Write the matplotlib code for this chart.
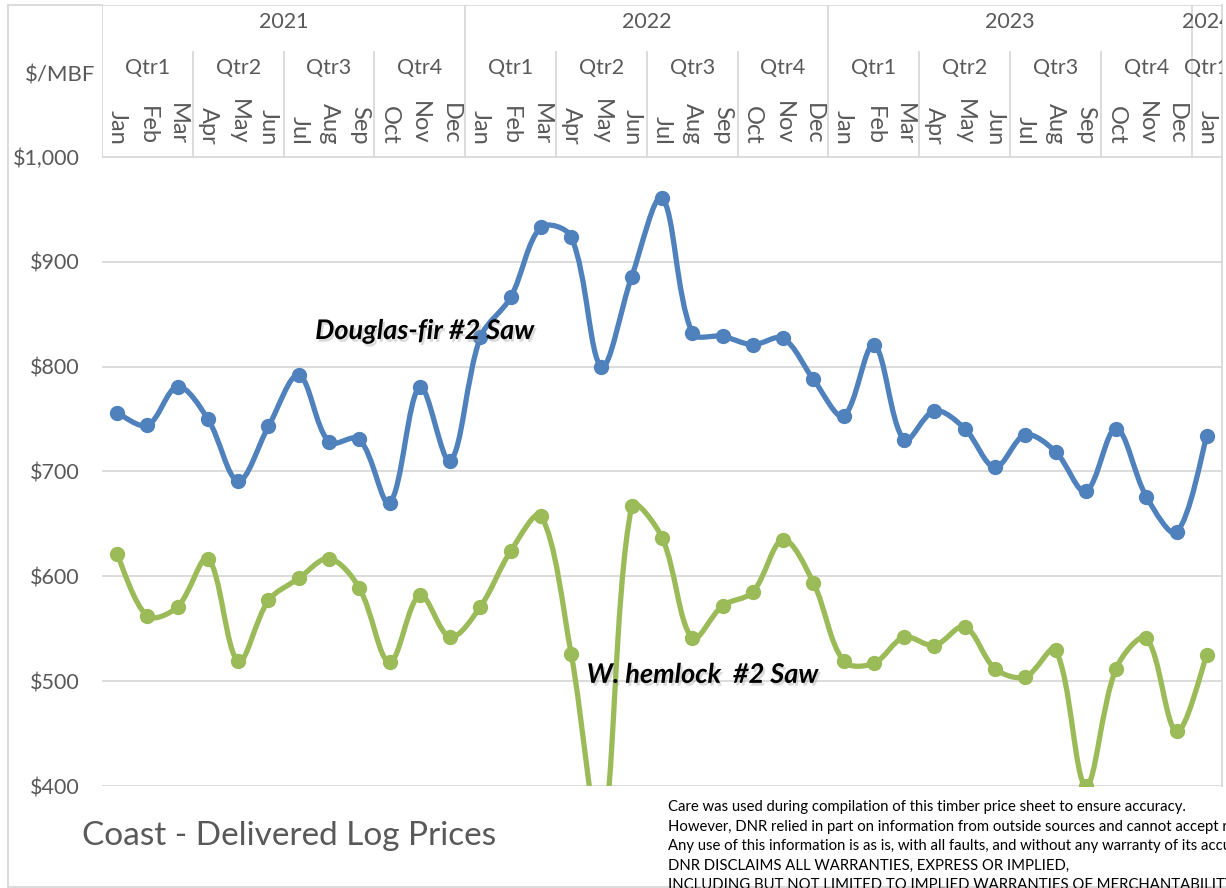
import numpy as np
import matplotlib
matplotlib.use("Agg")
import matplotlib.pyplot as plt
from matplotlib.path import Path
from matplotlib.patches import PathPatch
import matplotlib.patheffects as pe

plt.rcParams["font.family"] = ["Lato", "DejaVu Sans"]

# monthly delivered log prices, Jan 2021 .. Jan 2024 ($/MBF)
months = ["Jan", "Feb", "Mar", "Apr", "May", "Jun",
          "Jul", "Aug", "Sep", "Oct", "Nov", "Dec"] * 3 + ["Jan"]
quarters = ["Qtr1", "Qtr2", "Qtr3", "Qtr4"] * 3 + ["Qtr1"]
years = ["2021", "2022", "2023", "2024"]

douglas_fir = [756, 744, 781, 750, 691, 743, 792, 728, 731, 670, 781, 710,
               828, 866, 933, 924, 800, 886, 961, 832, 829, 821, 827, 788,
               753, 821, 730, 758, 741, 704, 735, 719, 681, 741, 676, 642,
               734]
hemlock = [621, 562, 571, 617, 519, 577, 598, 617, 589, 518, 582, 542,
           571, 624, 658, 526, 350, 667, 637, 541, 572, 585, 635, 594,
           519, 517, 542, 534, 552, 512, 504, 530, 400, 512, 541, 452,
           525]

BLUE = "#4F81BD"
GREEN = "#9BBB59"
GRID = "#D9D9D9"
TXT = "#595959"

W, H = 1226, 888
fig = plt.figure(figsize=(W / 100, H / 100), dpi=100)


def fx(px):
    return px / W


def fy(py):
    return 1 - py / H


def smooth_path(ax, x, y):
    # Excel-like smoothing: Bezier segments, tangents scaled by on-screen chord lengths
    data = np.column_stack([x, y]).astype(float)
    pix = ax.transData.transform(data)
    n = len(pix)

    def d(a, b):
        return np.hypot(*(pix[b] - pix[a]))

    verts = [pix[0]]
    codes = [Path.MOVETO]
    for i in range(n - 1):
        i0, i3 = max(i - 1, 0), min(i + 2, n - 1)
        p0, p1, p2, p3 = pix[i0], pix[i], pix[i + 1], pix[i3]
        d01, d12, d23 = d(i0, i), d(i, i + 1), d(i + 1, i3)
        f1 = d12 / (d01 + d12) / 3 if d01 > 0 else 1 / 6
        f2 = d12 / (d12 + d23) / 3 if d23 > 0 else 1 / 6
        verts += [p1 + (p2 - p0) * f1, p2 - (p3 - p1) * f2, p2]
        codes += [Path.CURVE4] * 3
    return Path(verts, codes)


left, right, top, bottom = 102, 1222, 157, 786
ax = fig.add_axes([fx(left), fy(bottom), fx(right - left), (bottom - top) / H])
x = np.arange(len(months))
ax.set_xlim(-0.5, len(months) - 0.5)
ax.set_ylim(400, 1000)

for series, color in [(douglas_fir, BLUE), (hemlock, GREEN)]:
    patch = PathPatch(smooth_path(ax, x, series), facecolor="none", edgecolor=color,
                      lw=3.8, capstyle="round", joinstyle="round", zorder=3,
                      transform=None)
    patch.set_clip_box(ax.bbox)
    ax.add_artist(patch)
    ax.plot(x, series, "o", color=color, ms=10, zorder=4, clip_on=True)

ax.set_yticks(np.arange(400, 1001, 100))
ax.set_yticklabels([f"${v:,}" for v in range(400, 1001, 100)], color=TXT, fontsize=15.5)
ax.tick_params(axis="y", length=0, pad=16)
ax.set_xticks([])
ax.grid(axis="y", color=GRID, lw=1.3)
for s in ["left", "top", "bottom"]:
    ax.spines[s].set_visible(False)
ax.spines["right"].set_color(GRID)
ax.spines["right"].set_linewidth(1.3)

shadow = [pe.SimplePatchShadow(offset=(1.5, -2), shadow_rgbFace="#999999", alpha=0.35),
          pe.Normal()]
ax.text(10.17, 834, "Douglas-fir #2 Saw", fontsize=19.5, fontweight="bold", style="italic",
        ha="center", va="center", color="black", zorder=5, path_effects=shadow)
ax.text(19.35, 506, "W. hemlock  #2 Saw", fontsize=19.5, fontweight="bold", style="italic",
        ha="center", va="center", color="black", zorder=5, path_effects=shadow)

# multi-level category header above the plot
hdr_top = 5
hx = fig.add_axes([fx(left), fy(top), fx(right - left), (top - hdr_top) / H], sharex=ax)
hx.set_ylim(0, 1)
hx.axis("off")
hx.axhline(1, color=GRID, lw=1.3)
hx.axhline(0, color=GRID, lw=1.3)

q_top = (top - 52) / (top - hdr_top)
for i, m in enumerate(months):
    hx.text(i, 0.08, m, rotation=-90, ha="center", va="bottom", fontsize=17,
            color=TXT, clip_on=True)
for q in range(len(quarters)):
    start = q * 3 - 0.5
    end = min(start + 3, len(months) - 0.5)
    hx.text((start + end) / 2, 0.585, quarters[q], ha="center", va="center",
            fontsize=15.5, color=TXT, clip_on=True)
    if q % 4 != 0:
        hx.plot([start, start], [0, q_top], color=GRID, lw=1.3)
for yi, yr in enumerate(years):
    start = yi * 12 - 0.5
    end = min(start + 12, len(months) - 0.5)
    hx.text((start + end) / 2, 0.885, yr, ha="center", va="center", fontsize=15.5,
            color=TXT, clip_on=True)
    hx.plot([start, start], [0, 1], color=GRID, lw=1.3)
hx.plot([len(months) - 0.5] * 2, [0, 1], color=GRID, lw=1.3, clip_on=False)

fig.text(fx(95), fy(75), "$/MBF", ha="right", va="center", fontsize=16, color=TXT)

# outer chart border
fig.add_artist(plt.Line2D([fx(8), fx(8)], [fy(5), fy(887)], color=GRID, lw=1.3))
fig.add_artist(plt.Line2D([fx(8), fx(W)], [fy(887), fy(887)], color=GRID, lw=1.3))
fig.add_artist(plt.Line2D([fx(8), fx(left)], [fy(5), fy(5)], color=GRID, lw=1.3))

fig.text(fx(82), fy(836), "Coast - Delivered Log Prices", ha="left", va="center",
         fontsize=24, color=TXT)

disclaimer = [
    "Care was used during compilation of this timber price sheet to ensure accuracy.",
    "However, DNR relied in part on information from outside sources and cannot accept responsibility for errors.",
    "Any use of this information is as is, with all faults, and without any warranty of its accuracy.",
    "DNR DISCLAIMS ALL WARRANTIES, EXPRESS OR IMPLIED,",
    "INCLUDING BUT NOT LIMITED TO IMPLIED WARRANTIES OF MERCHANTABILITY AND FITNESS FOR A PARTICULAR PURPOSE.",
]
for i, line in enumerate(disclaimer):
    fig.text(fx(668), fy(807 + i * 19.5), line, ha="left", va="center",
             fontsize=10.7, color="black")

fig.savefig("out.png", dpi=100)
